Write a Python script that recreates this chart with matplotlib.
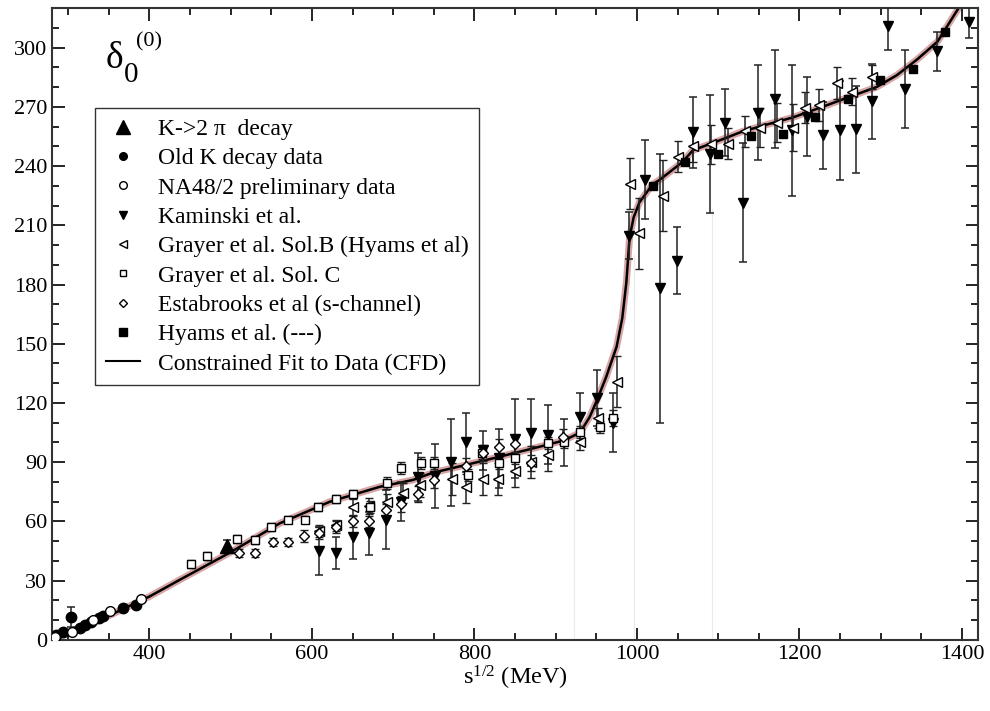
import matplotlib.pyplot as plt
from matplotlib.ticker import MultipleLocator

plt.rcParams['font.family'] = ['Liberation Serif', 'DejaVu Serif']
plt.rcParams['mathtext.fontset'] = 'stix'

# K -> 2 pi decay
k2pi_x = [496]
k2pi_y = [47.6]
k2pi_err = [3]

# Old K decay data
oldk_x = [285.5, 293, 304, 314, 321, 328.6, 338, 343, 368, 383]
oldk_y = [2.5, 4, 11.7, 6, 7.6, 9, 11, 12, 16, 17.7]
oldk_err = [0, 0, 5, 0, 0, 0, 0, 0, 0, 0]

# NA48/2 preliminary data
na48_x = [284, 305, 330, 351, 390]
na48_y = [1.5, 4, 10, 14.7, 20.8]

# Kaminski et al.
kam_x = [609, 630, 650, 670, 691, 710, 730, 751, 771, 790, 810, 830, 849.5, 870, 890, 910,
         929.6, 950.5, 970, 990, 1009.6, 1029, 1049, 1069, 1089.6, 1109, 1130, 1148.7,
         1169.7, 1190.6, 1209, 1229, 1250, 1269.5, 1289, 1309, 1330, 1369, 1408.6]
kam_y = [45, 44, 52, 54, 61, 70, 82.6, 83, 90, 100, 96, 92, 102, 105, 104, 100,
         113, 122.6, 110, 204.7, 233, 178, 192, 257, 246, 262, 221.5, 267,
         274, 258, 265, 255.5, 258, 258.5, 272.7, 311, 279, 298, 313]
kam_err = [12, 8, 11, 11, 15, 10, 12, 16, 22, 15, 10, 15, 20, 17, 15, 12,
           12, 14, 15, 12, 20, 68, 17, 18, 30, 17, 30, 24,
           25, 33, 20, 17, 25, 22, 19, 12, 20, 10, 8]

# Grayer et al. Sol.B (Hyams et al)
grb_x = [609, 630, 650, 670, 692, 711.6, 732.5, 772, 790, 811, 828.6, 849.5, 870, 890,
         929.6, 951.7, 975, 991, 1002, 1031.8, 1050, 1069, 1091, 1112, 1133, 1151, 1172,
         1192, 1207, 1224, 1246, 1264.5, 1289]
grb_y = [55, 58, 67.5, 68, 70, 74.5, 78.6, 81.6, 77.6, 81.6, 81.6, 85.7, 90, 93.8,
         100, 112.5, 130.8, 231, 206, 225, 244.8, 250, 251, 251.4, 257.5, 259.5, 262,
         259.5, 269.6, 271, 282, 277.7, 285]
grb_err = [3, 3, 4, 4, 4, 5, 6, 8, 8, 8, 8, 8, 8, 8,
           4, 5, 13, 13, 18, 18, 8, 8, 10, 8, 8, 10, 10,
           12, 8, 8, 8, 7, 6]

# Grayer et al. Sol. C
grc_x = [451.7, 471, 508, 530.5, 550, 570, 592, 608, 629, 650, 672, 692, 710, 733.7,
         750, 791.6, 809, 829.8, 849.5, 891, 910, 929.6, 954, 970]
grc_y = [38.5, 42.6, 51, 50.7, 57, 61, 61, 67.4, 71.5, 74, 67.4, 79.6, 87, 89.7,
         89.7, 83.6, 94.8, 89.7, 92, 99.8, 100.4, 105.4, 108, 112.5]
grc_err = [2, 2, 2, 2, 2, 2, 2, 2, 2, 2, 3, 3, 3, 3,
           3, 3, 3, 3, 3, 3, 3, 3, 3, 4]

# Estabrooks et al (s-channel)
est_x = [509.6, 530.5, 551.5, 570, 589.7, 609, 630, 650, 670, 690.6, 710, 730, 750,
         790, 810, 830, 849.5, 870, 908.6]
est_y = [44, 44, 49.7, 49.7, 52.7, 54, 57, 60, 60, 66, 69, 74, 81,
         88, 94.8, 97.8, 99, 89.7, 103]
est_err = [2, 2, 2, 2, 3, 3, 3, 3, 3, 3, 4, 4, 4,
           4, 4, 4, 4, 4, 4]

# Hyams et al. (---)
hya_x = [1019.5, 1059, 1099.5, 1140, 1179.6, 1219, 1259.6, 1299, 1339.6, 1379]
hya_y = [230, 241.8, 246, 255, 256, 265, 273.7, 283.8, 289, 308]

# Constrained Fit to Data (CFD)
cfd_x = [284, 347, 400, 437, 498, 560, 622, 683, 724, 748, 790, 831, 872, 910, 930, 942,
         951, 962, 975, 982, 987, 991, 996, 1003, 1019, 1028, 1056, 1069, 1100, 1130,
         1160, 1192, 1222, 1253, 1295, 1320, 1345, 1370, 1396, 1404]
cfd_y = [1, 11.7, 22, 30.4, 44, 59, 70, 77.5, 81, 84.6, 88.7, 92.8, 97, 101, 105, 113,
         121.6, 133, 148.5, 163, 181, 204, 214, 221.5, 230.6, 233, 242, 248, 252.7, 257.5,
         261, 264.6, 269, 273.7, 280, 286, 294, 303, 320, 326]

# faint vertical guide lines
guide_x = [922, 997, 1093]
guide_top = [100, 195, 218]

fig = plt.figure(figsize=(9.9, 7.11), dpi=100)
ax = fig.add_axes([0.0525, 0.0999, 0.9355, 0.8888])

for gx, gt in zip(guide_x, guide_top):
    ax.plot([gx, gx], [0, gt], color='#ebebeb', lw=0.8, zorder=0)

ax.plot(cfd_x, cfd_y, color='#d8a5a5', lw=5, solid_capstyle='round', zorder=1)
ax.plot(cfd_x, cfd_y, color='black', lw=1.8, zorder=2)

eb = dict(ecolor='#222222', elinewidth=1.1, capsize=3, capthick=1.1, linestyle='none', zorder=3)
ax.errorbar(kam_x, kam_y, yerr=kam_err, fmt='v', color='black', ms=7.5, **eb)
ax.errorbar(grb_x, grb_y, yerr=grb_err, fmt='<', mfc='white', mec='black', mew=1, ms=6.5, **eb)
ax.errorbar(grc_x, grc_y, yerr=grc_err, fmt='s', mfc='white', mec='black', mew=1, ms=6, **eb)
ax.errorbar(est_x, est_y, yerr=est_err, fmt='D', mfc='white', mec='black', mew=1, ms=4.8, **eb)
ax.plot(hya_x, hya_y, 's', color='black', ms=6, zorder=4)
ax.errorbar(oldk_x, oldk_y, yerr=oldk_err, fmt='o', color='black', ms=7.5, **eb)
ax.plot(na48_x, na48_y, 'o', mfc='white', mec='black', mew=1, ms=7, zorder=4)
ax.errorbar(k2pi_x, k2pi_y, yerr=k2pi_err, fmt='^', color='black', ms=10, **eb)

# legend entries
h = [
    ax.plot([], [], '^', color='black', ms=10)[0],
    ax.plot([], [], 'o', color='black', ms=5.5)[0],
    ax.plot([], [], 'o', mfc='white', mec='black', ms=5.5)[0],
    ax.plot([], [], 'v', color='black', ms=6)[0],
    ax.plot([], [], '<', mfc='white', mec='black', ms=5.5)[0],
    ax.plot([], [], 's', mfc='white', mec='black', ms=5)[0],
    ax.plot([], [], 'D', mfc='white', mec='black', ms=4.5)[0],
    ax.plot([], [], 's', color='black', ms=5.5)[0],
    ax.plot([], [], '-', color='black', lw=1.5)[0],
]
labels = ['K->2 π  decay', 'Old K decay data', 'NA48/2 preliminary data', 'Kaminski et al.',
          'Grayer et al. Sol.B (Hyams et al)', 'Grayer et al. Sol. C',
          'Estabrooks et al (s-channel)', 'Hyams et al. (---)', 'Constrained Fit to Data (CFD)']
leg = ax.legend(h, labels, loc='upper left', bbox_to_anchor=(0.0464, 0.842), fontsize=17,
                frameon=True, fancybox=False, edgecolor='black', handlelength=1.45,
                labelspacing=0.33, borderpad=0.45, handletextpad=0.75, borderaxespad=0)
leg.get_frame().set_linewidth(1.0)

# delta_0^(0) label, built from plain text pieces
fig.text(0.107, 0.904, 'δ', fontsize=27, va='baseline')
fig.text(0.125, 0.885, '0', fontsize=21, va='baseline')
fig.text(0.137, 0.934, '(0)', fontsize=16, va='baseline')

ax.set_xlim(280, 1420)
ax.set_ylim(0, 320)
ax.xaxis.set_major_locator(MultipleLocator(200))
ax.xaxis.set_minor_locator(MultipleLocator(50))
ax.yaxis.set_major_locator(MultipleLocator(30))
ax.yaxis.set_minor_locator(MultipleLocator(10))
ax.tick_params(which='both', direction='in', top=True, right=True, labelsize=16, width=1.2)
ax.tick_params(which='major', length=9)
ax.tick_params(which='minor', length=5)
for s in ax.spines.values():
    s.set_linewidth(1.5)
    s.set_color('#333333')
ax.set_xlabel(r'$\mathregular{s^{1/2}}$ (MeV)', fontsize=17.5, labelpad=0)

fig.savefig('out.png', dpi=100)
